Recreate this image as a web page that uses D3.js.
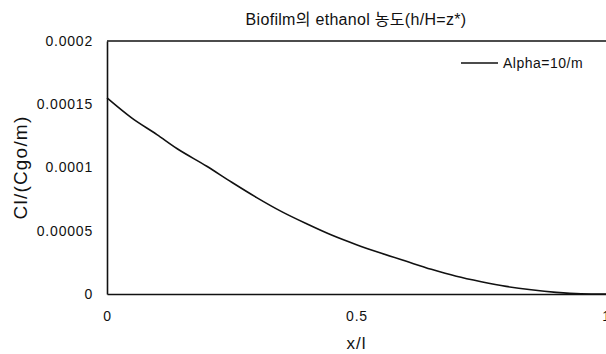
<!DOCTYPE html>
<html>
<head>
<meta charset="utf-8">
<script src="https://cdn.jsdelivr.net/npm/d3@7"></script>
<style>
  body { margin: 0; background: #fff; }
  svg text { font-family: "Liberation Sans", Arial, "Noto Sans CJK KR", sans-serif; fill: #111; }
</style>
</head>
<body>
<svg id="chart" width="606" height="354"></svg>
<script>
// data
var xValues = [0, 0.05, 0.1, 0.14, 0.2, 0.25, 0.3, 0.35, 0.4, 0.45, 0.5, 0.55, 0.6, 0.65, 0.7, 0.75, 0.8, 0.85, 0.9, 0.95, 1.0];
var clValues = [0.000155, 0.000139, 0.000126, 0.000115, 0.000101, 0.0000883, 0.0000762, 0.0000651, 0.0000555, 0.0000466, 0.000039, 0.0000322, 0.0000258, 0.0000195, 0.000014, 0.0000097, 0.0000060, 0.0000033, 0.0000013, 0.0000002, 0];
var yTicks = [0, 0.00005, 0.0001, 0.00015, 0.0002];
var yTickLabels = ["0", "0.00005", "0.0001", "0.00015", "0.0002"];
var xTicks = [0, 0.5, 1];
var xTickLabels = ["0", "0.5", "1"];
var seriesName = "Alpha=10/m";

var svg = d3.select("#chart");
var margin = { left: 107, right: 0, top: 41, bottom: 60 };
var width = 606, height = 354;

var x = d3.scaleLinear().domain([0, 1]).range([margin.left, width - margin.right]);
var y = d3.scaleLinear().domain([0, 0.0002]).range([height - margin.bottom, margin.top]);

// title
svg.append("text")
  .attr("x", 356).attr("y", 25)
  .attr("text-anchor", "middle")
  .style("font-size", "16px")
  .style("letter-spacing", "0.3px")
  .text("Biofilm의 ethanol 농도(h/H=z*)");

// y axis
var yAxis = svg.append("g")
  .attr("transform", "translate(" + margin.left + ",0)")
  .call(d3.axisLeft(y).tickValues(yTicks).tickSize(0).tickPadding(14)
    .tickFormat(function (d, i) { return yTickLabels[i]; }));
yAxis.select(".domain").attr("stroke", "#111").attr("stroke-width", 1.6);
yAxis.selectAll("text").style("font-size", "14px").style("letter-spacing", "0.8px");

// x axis
var xAxis = svg.append("g")
  .attr("transform", "translate(0," + y(0) + ")")
  .call(d3.axisBottom(x).tickValues(xTicks).tickSize(0).tickPadding(17)
    .tickFormat(function (d, i) { return xTickLabels[i]; }));
xAxis.select(".domain").attr("stroke", "#111").attr("stroke-width", 1.4);
xAxis.selectAll("text").style("font-size", "14px").style("letter-spacing", "0.8px");

// top border of plot area
svg.append("line")
  .attr("x1", x(0)).attr("x2", x(1))
  .attr("y1", y(0.0002)).attr("y2", y(0.0002))
  .attr("stroke", "#111").attr("stroke-width", 1.4);

// axis titles
svg.append("text")
  .attr("x", x(0.5)).attr("y", 349)
  .attr("text-anchor", "middle")
  .style("font-size", "17px")
  .style("letter-spacing", "1px")
  .text("x/l");

svg.append("text")
  .attr("transform", "translate(27," + (y(0.0001)) + ") rotate(-90)")
  .attr("text-anchor", "middle")
  .style("font-size", "19px")
  .style("letter-spacing", "1.2px")
  .text("Cl/(Cgo/m)");

// curve
var line = d3.line()
  .x(function (d, i) { return x(xValues[i]); })
  .y(function (d) { return y(d); })
  .curve(d3.curveMonotoneX);

svg.append("path")
  .datum(clValues)
  .attr("d", line)
  .attr("fill", "none")
  .attr("stroke", "#111")
  .attr("stroke-width", 1.6);

// legend
var legend = svg.append("g").attr("transform", "translate(461,63)");
legend.append("line")
  .attr("x1", 0).attr("x2", 37).attr("y1", 0).attr("y2", 0)
  .attr("stroke", "#111").attr("stroke-width", 1.6);
legend.append("text")
  .attr("x", 42).attr("y", 5)
  .style("font-size", "14px")
  .style("letter-spacing", "0.5px")
  .text(seriesName);
</script>
</body>
</html>
